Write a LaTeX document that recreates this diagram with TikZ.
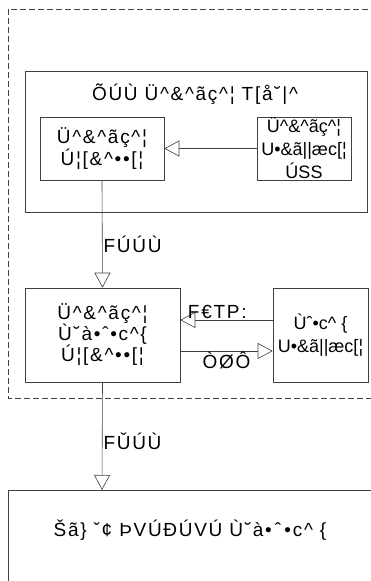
\documentclass[tikz,border=0pt]{standalone}
\usepackage{fontspec}
\setmainfont{Liberation Sans}[LetterSpace=9]
\newfontfamily\tightfont{Liberation Sans}
\usetikzlibrary{positioning,arrows.meta,calc}
\tikzset{
  >={Triangle[open,length=15pt,width=16pt]},
  every node/.style={font=\fontsize{19}{18.5}\selectfont},
  pkgbox/.style={draw=black!75,dashed,dash pattern=on 6pt off 3pt,line width=0.6pt},
  subbox/.style={draw=black!75,line width=0.6pt},
  clsbox/.style={draw=black!75,line width=0.6pt,align=center,inner sep=1pt},
  tightbox/.style={clsbox,inner sep=0pt,font=\tightfont\fontsize{18}{23}\selectfont},
  assoc/.style={->,draw=black!75,line width=0.6pt},
  asslbl/.style={inner sep=1pt},
}

\begin{document}
\begin{tikzpicture}[x=1pt,y=-1pt]
  \useasboundingbox (0,0) rectangle (371,581);
  \clip (0,0) rectangle (371,581);
  % package frame and subsystem frame
  \draw[pkgbox] (8,9) rectangle (420,398);
  \draw[subbox] (25,71) rectangle (367,212);
  \node (title) at (195,94) {ÕÚÙ Ü\^{}\&\^{}ãç\^{}¦ T[å˘|\^{}};
  % classes
  \node[clsbox,minimum width=124pt,minimum height=63pt] (rcv)
    at (102,148.5) {Ü\^{}\&\^{}ãç\^{}¦\\Ú¦[\&\^{}••[¦};
  \node[tightbox,minimum width=94pt,minimum height=63pt] (osc)
    at (304,148.5) {Ü\^{}\&\^{}ãç\^{}¦\\U•\&ã||æc[¦\\ÚSS};
  \node[clsbox,minimum width=155pt,minimum height=94pt,
    font=\fontsize{19}{21}\selectfont] (sub)
    at (102.5,335) {Ü\^{}\&\^{}ãç\^{}¦\\Ù˘à•ˆ•c\^{}\{\\Ú¦[\&\^{}••[¦};
  \node[tightbox,minimum width=95pt,minimum height=94pt] (sysosc)
    at (320.5,335) {Ùˆ•c\^{} \{\\U•\&ã||æc[¦};
  \draw[subbox] (8,490) rectangle (420,640);
  \node (main) at (190,530) {Šã\} ˇ¢ ÞVÚÐÚVÚ Ù˘à•\,ˆ\,•c\^{} \{};
  \coordinate (maintop) at (102,490);
  % connectors
  \draw[assoc] (osc.west) -- (rcv.east);
  \draw[assoc] (rcv.south) -- node[asslbl,right,pos=0.6] {FÚÚÙ} (sub.north);
  \draw[assoc] ($(sysosc.west)+(0,-15)$) -- node[asslbl,above,pos=0.6] {F€TP:}
    ($(sub.east)+(0,-15)$);
  \draw[assoc] ($(sub.east)+(0,16)$) -- node[asslbl,below,pos=0.5] {ÒØÔ}
    ($(sysosc.west)+(0,16)$);
  \draw[assoc] (sub.south) -- node[asslbl,right,pos=0.55] {FǓÚÙ} (maintop);
\end{tikzpicture}
\end{document}
